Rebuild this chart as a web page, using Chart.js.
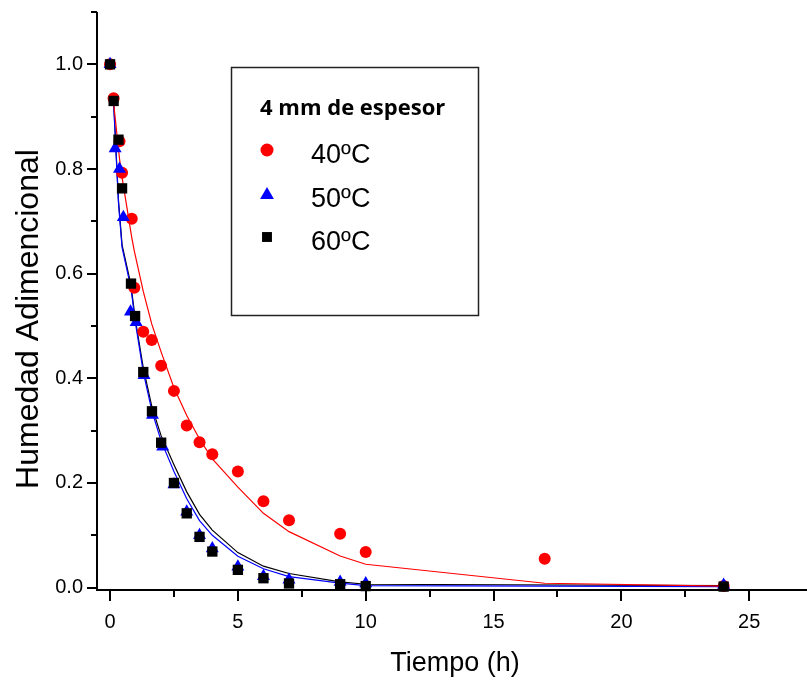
<!DOCTYPE html>
<html><head><meta charset="utf-8">
<script src="https://cdn.jsdelivr.net/npm/chart.js@4.4.0/dist/chart.umd.min.js"></script>
<style>html,body{margin:0;padding:0;background:#fff;}canvas{display:block;}</style>
</head><body>
<canvas id="c" width="807" height="684"></canvas>
<script>
// ---- tick values ----
const xTickValues = [0, 5, 10, 15, 20, 25];
const xMinorValues = [2.5, 7.5, 12.5, 17.5, 22.5];
const yTickValues = [0, 0.2, 0.4, 0.6, 0.8, 1.0];
const yMinorValues = [0.1, 0.3, 0.5, 0.7, 0.9, 1.1];

// ---- texts ----
const xTitle = 'Tiempo (h)';
const yTitle = 'Humedad Adimencional';
const legendTitle = '4 mm de espesor';
const seriesNames = ['40ºC', '50ºC', '60ºC'];

// ---- measured data (moisture ratio vs time) ----
const t40 = [0, 0.14, 0.37, 0.47, 0.85, 0.95, 1.3, 1.63, 2, 2.5, 3, 3.5, 4, 5, 6, 7, 9, 10, 17, 24];
const mr40 = [1.0, 0.935, 0.853, 0.793, 0.705, 0.573, 0.489, 0.473, 0.424, 0.376, 0.31, 0.278, 0.255, 0.222, 0.165, 0.129, 0.103, 0.068, 0.055, 0.003];

const t50 = [0, 0.2, 0.37, 0.52, 0.8, 1.02, 1.33, 1.66, 2.06, 2.5, 3, 3.5, 4, 5, 6, 7, 9, 10, 24];
const mr50 = [1.0, 0.839, 0.8, 0.708, 0.527, 0.507, 0.406, 0.33, 0.269, 0.197, 0.145, 0.1, 0.075, 0.04, 0.022, 0.015, 0.011, 0.008, 0.005];

const t60 = [0, 0.14, 0.33, 0.47, 0.82, 0.98, 1.3, 1.64, 2, 2.5, 3, 3.5, 4, 5, 6, 7, 9, 10, 24];
const mr60 = [1.0, 0.93, 0.856, 0.763, 0.581, 0.519, 0.412, 0.337, 0.277, 0.2, 0.142, 0.097, 0.069, 0.034, 0.018, 0.008, 0.0065, 0.003, 0.002];

// ---- fitted model curves ----
const fitT40 = [0.14, 0.37, 0.47, 0.85, 0.95, 1.3, 1.63, 2, 2.5, 3, 3.5, 4, 5, 6, 7, 9, 10, 17, 24];
const fit40 = [0.926, 0.82, 0.784, 0.669, 0.643, 0.566, 0.504, 0.45, 0.382, 0.329, 0.284, 0.246, 0.192, 0.142, 0.107, 0.0605, 0.0447, 0.0084, 0.003];

const fitT5060 = [0.14, 0.33, 0.47, 0.82, 0.98, 1.3, 1.64, 2, 2.5, 3, 3.5, 4, 5, 6, 7, 9, 10, 24];
const fit50 = [0.925, 0.735, 0.65, 0.572, 0.51, 0.412, 0.337, 0.28, 0.222, 0.17, 0.128, 0.1, 0.06, 0.036, 0.021, 0.0085, 0.004, 0.002];
const fit60 = [0.93, 0.74, 0.655, 0.578, 0.515, 0.42, 0.345, 0.29, 0.235, 0.183, 0.14, 0.11, 0.067, 0.041, 0.027, 0.011, 0.0065, 0.004];

const pts = (xs, ys) => xs.map((x, i) => ({ x: x, y: ys[i] }));

const RED = '#ff0000', BLUE = '#0000ff', BLACK = '#000000';
const FONT = "'Liberation Sans', Arial, sans-serif";

const axesPlugin = {
  id: 'axesPlugin',
  beforeDatasetsDraw(chart) {
    const ctx = chart.ctx, xs = chart.scales.x, ys = chart.scales.y;
    const ax = xs.left, ay = ys.bottom;
    ctx.save();
    ctx.strokeStyle = '#000';
    ctx.lineWidth = 2;
    ctx.lineCap = 'butt';
    ctx.beginPath();
    ctx.moveTo(ax, ys.top); ctx.lineTo(ax, ay + 1);
    ctx.moveTo(ax - 1, ay); ctx.lineTo(xs.right, ay);
    yTickValues.forEach(v => { const p = Math.round(ys.getPixelForValue(v)); ctx.moveTo(ax - 10, p); ctx.lineTo(ax, p); });
    yMinorValues.forEach(v => { const p = Math.round(ys.getPixelForValue(v)); ctx.moveTo(ax - 6, p); ctx.lineTo(ax, p); });
    xTickValues.forEach(v => { const p = Math.round(xs.getPixelForValue(v)); ctx.moveTo(p, ay); ctx.lineTo(p, ay + 11); });
    xMinorValues.forEach(v => { const p = Math.round(xs.getPixelForValue(v)); ctx.moveTo(p, ay); ctx.lineTo(p, ay + 7); });
    ctx.stroke();
    ctx.restore();
  },
  afterDraw(chart) {
    const ctx = chart.ctx, xs = chart.scales.x;
    ctx.save();
    ctx.fillStyle = '#000';
    // axis titles
    ctx.font = '27px ' + FONT;
    ctx.textAlign = 'center';
    ctx.textBaseline = 'alphabetic';
    ctx.fillText(xTitle, (xs.left + xs.right) / 2 + 3, 671);
    ctx.save();
    ctx.translate(38, 319);
    ctx.rotate(-Math.PI / 2);
    ctx.font = '32px ' + FONT;
    ctx.fillText(yTitle, 0, 0);
    ctx.restore();

    // legend box
    ctx.strokeStyle = '#222';
    ctx.lineWidth = 1.5;
    ctx.strokeRect(231.5, 67.5, 247, 248);
    ctx.textAlign = 'left';
    ctx.font = "bold 22px 'Open Sans', 'Noto Sans', sans-serif";
    ctx.fillText(legendTitle, 260, 115);
    const items = [
      { style: 'circle', r: 6.5, color: RED, y: 150, base: 162.5 },
      { style: 'triangle', r: 8, color: BLUE, y: 195, base: 206.5 },
      { style: 'rect', r: 7, color: BLACK, y: 237, base: 249.5 }
    ];
    ctx.font = '27px ' + FONT;
    items.forEach((it, i) => {
      ctx.fillStyle = it.color;
      ctx.strokeStyle = it.color;
      Chart.helpers.drawPoint(ctx, { pointStyle: it.style, radius: it.r, rotation: 0, borderWidth: 0 }, 267, it.y);
      ctx.fillStyle = '#000';
      ctx.fillText(seriesNames[i], 311, it.base);
    });
    ctx.restore();
  }
};

const scatterDs = (label, data, style, r, color, order) => ({
  label: label, data: data, showLine: false, pointStyle: style, pointRadius: r, pointHoverRadius: r,
  pointBackgroundColor: color, pointBorderColor: color, pointBorderWidth: 0, order: order, clip: false
});
const lineDs = (label, data, color, order) => ({
  label: label, data: data, showLine: true, pointRadius: 0, borderColor: color, borderWidth: 1.2,
  backgroundColor: color, fill: false, tension: 0, order: order, clip: false
});

new Chart(document.getElementById('c'), {
  type: 'scatter',
  data: {
    datasets: [
      scatterDs(seriesNames[2], pts(t60, mr60), 'rect', 7.3, BLACK, 0),
      scatterDs(seriesNames[1], pts(t50, mr50), 'triangle', 7.5, BLUE, 1),
      scatterDs(seriesNames[0], pts(t40, mr40), 'circle', 6, RED, 2),
      lineDs('fit ' + seriesNames[0], pts(fitT40, fit40), RED, 3),
      lineDs('fit ' + seriesNames[1], pts(fitT5060, fit50), BLUE, 4),
      lineDs('fit ' + seriesNames[2], pts(fitT5060, fit60), BLACK, 5)
    ]
  },
  options: {
    responsive: false,
    devicePixelRatio: 1,
    animation: false,
    layout: { autoPadding: false, padding: { top: 12, left: 0, right: 0, bottom: 0 } },
    plugins: { legend: { display: false }, tooltip: { enabled: false } },
    scales: {
      x: {
        type: 'linear', min: -0.51, max: 27.26,
        afterFit(s) { s.height = 94; s.paddingLeft = 0; s.paddingRight = 0; },
        afterBuildTicks(s) { s.ticks = xTickValues.map(v => ({ value: v })); },
        grid: { display: false, drawTicks: false },
        border: { display: false },
        ticks: { padding: 20, color: '#000', font: { family: FONT, size: 20 }, maxRotation: 0, autoSkip: false,
                 callback: v => String(v) }
      },
      y: {
        type: 'linear', min: -0.0045, max: 1.1,
        afterFit(s) { s.width = 97; s.paddingTop = 0; s.paddingBottom = 0; },
        afterBuildTicks(s) { s.ticks = yTickValues.map(v => ({ value: v })); },
        grid: { display: false, drawTicks: false },
        border: { display: false },
        ticks: { padding: 14, color: '#000', font: { family: FONT, size: 20 }, callback: v => v.toFixed(1) }
      }
    }
  },
  plugins: [axesPlugin]
});
</script>
</body></html>
